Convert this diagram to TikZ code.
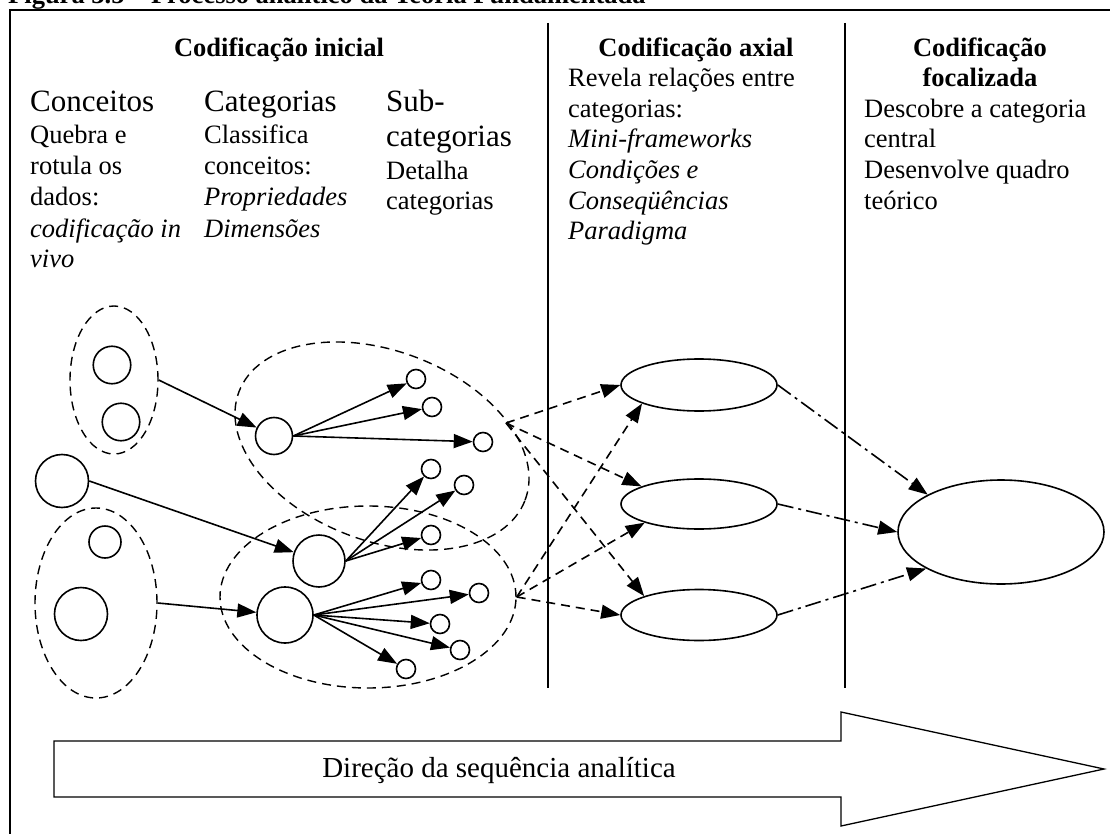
\documentclass[tikz,border=0pt]{standalone}
\usepackage{fontspec}
\setmainfont{Liberation Serif}
\usetikzlibrary{arrows.meta,shapes.geometric}

\newcommand\fbody{\fontsize{26.5}{30.5}\selectfont}
\newcommand\fbig{\fontsize{31}{35}\selectfont}
\newcommand\fhead{\fontsize{26.5}{30.5}\selectfont\bfseries}
\newcommand\fseq{\fontsize{29}{33}\selectfont}

\tikzset{
  txt/.style={font=\fbody, anchor=base west, inner sep=0pt},
  txtit/.style={font=\fbody\itshape, anchor=base west, inner sep=0pt},
  bigtxt/.style={font=\fbig, anchor=base west, inner sep=0pt},
  hdtext/.style={font=\fhead, anchor=base, inner sep=0pt},
  shp/.style={draw, line width=1.6pt, inner sep=0pt, fill=white},
  circ/.style={shp, circle, minimum size=#1},
  oval/.style={shp, ellipse},
  grp/.style={draw, ellipse, inner sep=0pt, line width=1.4pt, dash pattern=on 9pt off 6pt},
  link/.style={line width=1.6pt, -{Triangle[length=19pt,width=14pt]}},
  dlink/.style={link, dash pattern=on 9pt off 6pt},
  ddlink/.style={link, dash pattern=on 16pt off 5pt on 3pt off 5pt},
}

\begin{document}
\begin{tikzpicture}[x=1pt, y=-1pt]
\useasboundingbox (0,0) rectangle (1110,834);
\clip (0,0) rectangle (1110,834);

% caption and frame
\node[font=\fhead, anchor=base west, inner sep=0pt] (cap) at (8,4)
  {Figura 3.5 – Processo analítico da Teoria Fundamentada};
\draw[line width=2.2pt] (10,10) rectangle (1130,860);

% column dividers
\draw[line width=1.6pt] (548,23) -- (548,688);
\draw[line width=1.6pt] (845,23) -- (845,688);

% headings
\node[hdtext] (h1) at (279,57) {Codificação inicial};
\node[hdtext] (h2) at (696,57) {Codificação axial};
\node[hdtext] (h3) at (980,57) {Codificação};
\node[hdtext] (h3b) at (980,87) {focalizada};

% initial coding columns
\node[bigtxt] (k1) at (30,112) {Conceitos};
\node[txt] (k1a) at (30,144) {Quebra e};
\node[txt] (k1b) at (30,175) {rotula os};
\node[txt] (k1c) at (30,206) {dados:};
\node[txtit] (k1d) at (30,237) {codificação in};
\node[txtit] (k1e) at (30,267) {vivo};

\node[bigtxt] (k2) at (204,112) {Categorias};
\node[txt] (k2a) at (204,144) {Classifica};
\node[txt] (k2b) at (204,175) {conceitos:};
\node[txtit] (k2c) at (204,206) {Propriedades};
\node[txtit] (k2d) at (204,237) {Dimensões};

\node[bigtxt] (k3) at (386,112) {Sub-};
\node[bigtxt] (k3a) at (386,147) {categorias};
\node[txt] (k3b) at (386,180) {Detalha};
\node[txt] (k3c) at (386,210) {categorias};

% axial coding column
\node[txt] (x1) at (568,87) {Revela relações entre};
\node[txt] (x2) at (568,118) {categorias:};
\node[txtit] (x3) at (568,148) {Mini-frameworks};
\node[txtit] (x4) at (568,179) {Condições e};
\node[txtit] (x5) at (568,210) {Conseqüências};
\node[txtit] (x6) at (568,240) {Paradigma};

% focused coding column
\node[txt] (f1) at (864,118) {Descobre a categoria};
\node[txt] (f2) at (864,148) {central};
\node[txt] (f3) at (864,179) {Desenvolve quadro};
\node[txt] (f4) at (864,210) {teórico};

% dashed groupings
\node[grp, minimum width=88pt, minimum height=148pt] (E1) at (114,380) {};
\node[grp, minimum width=122pt, minimum height=190pt] (E3) at (96,603) {};
\node[grp, minimum width=306pt, minimum height=190pt, rotate=-20.7] (E2) at (382,446) {};
\node[grp, minimum width=296pt, minimum height=182pt] (E4) at (368,597) {};
\coordinate (p1) at (506,423);

% concepts
\node[circ=37.5pt] (a1) at (112,365) {};
\node[circ=37.5pt] (a2) at (121,422) {};
\node[circ=53pt] (B) at (62,481) {};
\node[circ=32pt] (a3) at (105,542) {};
\node[circ=53pt] (a4) at (81,614) {};

% categories
\node[circ=37pt] (c1) at (274,436) {};
\node[circ=52pt] (c2) at (319,561) {};
\node[circ=56pt] (c3) at (285,615) {};

% sub-categories
\foreach \n/\p in {s1/{(416,379)}, s2/{(432,407)}, s3/{(483,442)},
                   s4/{(431,469)}, s5/{(464,485)}, s6/{(431,535)},
                   s7/{(431,580)}, s8/{(479,593)}, s9/{(440,624)},
                   s10/{(460,650)}, s11/{(406,669)}}
  \node[circ=19pt] (\n) at \p {};

% links into categories
\draw[link] (E1.east) -- (c1);
\draw[link] (B.east) -- (c2);
\draw[link] (E3.east) -- (c3);

% links into sub-categories
\foreach \t in {s1,s2,s3} \draw[link] (c1.east) -- (\t);
\foreach \t in {s4,s5,s6} \draw[link] (c2.east) -- (\t);
\foreach \t in {s7,s8,s9,s10,s11} \draw[link] (c3.east) -- (\t);

% axial categories
\node[oval, minimum width=156pt, minimum height=52pt] (A1) at (699,385) {};
\node[oval, minimum width=156pt, minimum height=50pt] (A2) at (699,504) {};
\node[oval, minimum width=156pt, minimum height=51pt] (A3) at (699,615) {};

% core category
\node[oval, minimum width=206pt, minimum height=104pt] (F) at (1001,532) {};

% relations between categories
\draw[dlink] (p1) -- (A1.west);
\draw[dlink] (p1) -- (A2.163);
\draw[dlink] (p1) -- (A3.161);
\draw[dlink] (E4.east) -- (A1.198);
\draw[dlink] (E4.east) -- (A2.199);
\draw[dlink] (E4.east) -- (A3.west);

% convergence on the core category
\draw[ddlink] (A1.east) -- (F.153);
\draw[ddlink] (A2.east) -- (F.west);
\draw[ddlink] (A3.east) -- (F.206);

% direction of the analytic sequence
\draw[line width=1.3pt] (54,741) -- (841,741) -- (841,712) -- (1104,769)
  -- (841,826) -- (841,797) -- (54,797) -- cycle;
\node[font=\fseq, anchor=base, inner sep=0pt] (seq) at (499,777)
  {Direção da sequência analítica};
\end{tikzpicture}
\end{document}
